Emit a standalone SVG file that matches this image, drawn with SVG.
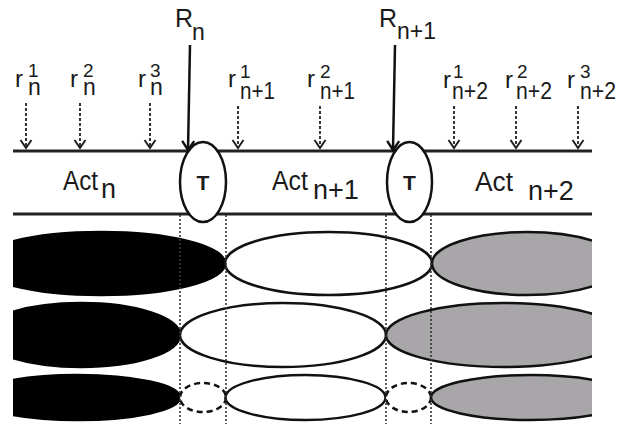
<svg xmlns="http://www.w3.org/2000/svg" width="620" height="424" viewBox="0 0 620 424">
  <style>
    text { font-family: "Liberation Sans", Arial, sans-serif; fill: #1a1a1a; }
    .act { font-size: 27px; }
    .r { font-size: 24px; }
    .sup { font-size: 19px; }
    .sub { font-size: 23px; }
    .big { font-size: 25px; }
    .t { font-size: 21px; font-weight: bold; text-anchor: middle; }
    .rail { stroke: #222; stroke-width: 3; fill: none; }
    .tnode { fill: #fff; stroke: #111; stroke-width: 2.5; }
    .req { stroke: #222; stroke-width: 1.8; stroke-dasharray: 3 2; fill: none; marker-end: url(#vhead); }
    .res { stroke: #111; stroke-width: 2.5; fill: none; marker-end: url(#vhead2); }
    .blk { fill: #000; stroke: #000; stroke-width: 2.5; }
    .wht { fill: #fff; stroke: #111; stroke-width: 2.5; }
    .gry { fill: #a8a6a9; stroke: #111; stroke-width: 2.5; }
    .gap { fill: #fff; stroke: #111; stroke-width: 2.5; stroke-dasharray: 6 4; }
    .guide { stroke: #333; stroke-width: 1.6; stroke-dasharray: 2 2; fill: none; }
  </style>
  <defs>
    <marker id="vhead" markerUnits="userSpaceOnUse" markerWidth="16" markerHeight="16" refX="0" refY="0" viewBox="-10 -8 12 16" orient="auto" overflow="visible">
      <path d="M-8,-5.5 L0,0 L-8,5.5" fill="none" stroke="#222" stroke-width="2"/>
    </marker>
    <marker id="vhead2" markerUnits="userSpaceOnUse" markerWidth="16" markerHeight="16" refX="0" refY="0" viewBox="-10 -8 12 16" orient="auto" overflow="visible">
      <path d="M-9,-6 L0,0 L-9,6" fill="none" stroke="#111" stroke-width="2.4"/>
    </marker>
    <clipPath id="lane">
      <rect x="13" y="220" width="579" height="204"/>
    </clipPath>
  </defs>

  <!-- activity bar -->
  <g id="bar">
    <line class="rail" x1="13" y1="151" x2="592" y2="151"/>
    <line class="rail" x1="13" y1="214" x2="592" y2="214"/>
    <text class="act"><tspan x="63" y="190" textLength="35" lengthAdjust="spacingAndGlyphs">Act</tspan><tspan x="101" y="198">n</tspan></text>
    <text class="act"><tspan x="272" y="190" textLength="36" lengthAdjust="spacingAndGlyphs">Act</tspan><tspan x="313" y="199">n+1</tspan></text>
    <text class="act"><tspan x="475" y="191" textLength="38" lengthAdjust="spacingAndGlyphs">Act</tspan><tspan x="528" y="200">n+2</tspan></text>
  </g>

  <!-- transitions -->
  <g id="T1">
    <ellipse class="tnode" cx="203" cy="182" rx="23" ry="40"/>
    <text class="t" x="203" y="190">T</text>
  </g>
  <g id="T2">
    <ellipse class="tnode" cx="409.5" cy="182" rx="22.5" ry="40"/>
    <text class="t" x="409.5" y="190">T</text>
  </g>

  <!-- request labels: base letter, superscript index, subscript activity -->
  <g id="labels">
    <text class="big"><tspan x="175" y="27">R</tspan><tspan class="sub" x="192" y="40">n</tspan></text>
    <text class="big"><tspan x="379" y="27">R</tspan><tspan class="sub" x="397" y="39">n+1</tspan></text>

    <text class="r"><tspan x="15" y="87">r</tspan><tspan class="sup" x="28" y="77">1</tspan><tspan class="sub" x="28" y="95">n</tspan></text>
    <text class="r"><tspan x="70" y="87">r</tspan><tspan class="sup" x="83" y="77">2</tspan><tspan class="sub" x="83" y="95">n</tspan></text>
    <text class="r"><tspan x="138" y="87">r</tspan><tspan class="sup" x="150" y="77">3</tspan><tspan class="sub" x="150" y="95">n</tspan></text>

    <text class="r"><tspan x="228" y="87">r</tspan><tspan class="sup" x="240" y="78">1</tspan><tspan class="sub" x="240" y="99" textLength="35" lengthAdjust="spacingAndGlyphs">n+1</tspan></text>
    <text class="r"><tspan x="307" y="87">r</tspan><tspan class="sup" x="320" y="78">2</tspan><tspan class="sub" x="320" y="99" textLength="35" lengthAdjust="spacingAndGlyphs">n+1</tspan></text>

    <text class="r"><tspan x="443" y="88">r</tspan><tspan class="sup" x="453" y="78">1</tspan><tspan class="sub" x="452" y="99" textLength="36" lengthAdjust="spacingAndGlyphs">n+2</tspan></text>
    <text class="r"><tspan x="505" y="88">r</tspan><tspan class="sup" x="517" y="78">2</tspan><tspan class="sub" x="516" y="99" textLength="36" lengthAdjust="spacingAndGlyphs">n+2</tspan></text>
    <text class="r"><tspan x="567" y="88">r</tspan><tspan class="sup" x="580" y="78">3</tspan><tspan class="sub" x="580" y="99" textLength="36" lengthAdjust="spacingAndGlyphs">n+2</tspan></text>
  </g>

  <!-- arrows into the activity bar -->
  <g id="connectors">
    <line class="res" x1="190" y1="45" x2="188" y2="150"/>
    <line class="res" x1="395" y1="45" x2="393" y2="150"/>
    <line class="req" x1="26" y1="103" x2="26" y2="148"/>
    <line class="req" x1="80" y1="103" x2="80" y2="148"/>
    <line class="req" x1="150" y1="103" x2="150" y2="148"/>
    <line class="req" x1="238" y1="106" x2="238" y2="148"/>
    <line class="req" x1="320" y1="106" x2="320" y2="148"/>
    <line class="req" x1="454" y1="106" x2="454" y2="148"/>
    <line class="req" x1="516" y1="106" x2="516" y2="148"/>
    <line class="req" x1="578" y1="106" x2="578" y2="148"/>
  </g>

  <!-- resource lanes -->
  <g id="lanes" clip-path="url(#lane)">
    <g id="lane1">
      <ellipse class="blk" cx="101" cy="263.5" rx="124" ry="31.5"/>
      <ellipse class="wht" cx="328.5" cy="263.5" rx="103.5" ry="31.5"/>
      <ellipse class="gry" cx="527" cy="263.5" rx="95" ry="31.5"/>
    </g>
    <g id="lane2">
      <ellipse class="blk" cx="81" cy="335" rx="99" ry="32"/>
      <ellipse class="wht" cx="283" cy="335" rx="103" ry="32"/>
      <ellipse class="gry" cx="504" cy="335" rx="118" ry="32"/>
    </g>
    <g id="lane3">
      <ellipse class="blk" cx="77.5" cy="397.5" rx="102.5" ry="22.5"/>
      <ellipse class="gap" cx="203" cy="397.5" rx="23" ry="14.5"/>
      <ellipse class="wht" cx="305.5" cy="397.5" rx="80" ry="22.5"/>
      <ellipse class="gap" cx="408.5" cy="397.5" rx="22.5" ry="14.5"/>
      <ellipse class="gry" cx="531" cy="397.5" rx="100" ry="22.5"/>
    </g>
  </g>

  <!-- transition boundaries -->
  <g id="guides">
    <line class="guide" x1="180" y1="215" x2="180" y2="424"/>
    <line class="guide" x1="226" y1="215" x2="226" y2="424"/>
    <line class="guide" x1="386" y1="215" x2="386" y2="424"/>
    <line class="guide" x1="431" y1="215" x2="431" y2="424"/>
  </g>
</svg>
